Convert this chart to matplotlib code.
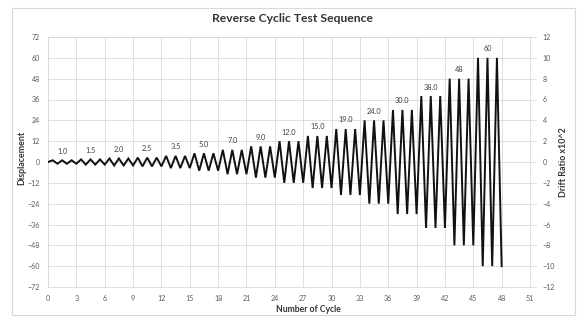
import matplotlib
matplotlib.use('Agg')
import matplotlib.pyplot as plt
from matplotlib.patches import Rectangle

plt.rcParams['font.family'] = ['Lato', 'DejaVu Sans']

# ---- data ----
amplitudes = [1.0, 1.5, 2.0, 2.5, 3.5, 5.0, 7.0, 9.0, 12.0, 15.0, 19.0, 24.0, 30.0, 38.0, 48, 60]
step_labels = ["1.0", "1.5", "2.0", "2.5", "3.5", "5.0", "7.0", "9.0", "12.0", "15.0",
               "19.0", "24.0", "30.0", "38.0", "48", "60"]
cycles_per_step = 3
x_ticks = list(range(0, 52, 3))
y_ticks = list(range(-72, 73, 12))
drift_ticks = list(range(-12, 13, 2))

# build the displacement history: each cycle peaks half-way and reverses at its end
cyc_x = [0]
disp = [0]
cycle = 0
for a in amplitudes:
    for k in range(cycles_per_step):
        cycle += 1
        cyc_x += [cycle - 0.5, cycle]
        disp += [a, -a]

fig = plt.figure(figsize=(5.84, 3.22), dpi=100)
W, H = 584, 322
fig.patches.append(Rectangle((12 / W, 1 - 315 / H), (575 - 12) / W, (315 - 8) / H,
                             transform=fig.transFigure, fill=False,
                             edgecolor='#d9d9d9', lw=0.8))

ax = fig.add_axes([48 / W, 1 - 287 / H, (530 - 48) / W, (287 - 37) / H])
grid_c = '#d9d9d9'
tick_c = '#595959'

ax.plot(cyc_x, disp, color='#111111', lw=1.4, solid_joinstyle='miter', zorder=3)

for i, (a, lab) in enumerate(zip(amplitudes, step_labels)):
    xc = i * cycles_per_step + cycles_per_step / 2
    ax.annotate(lab, (xc, a), xytext=(0, 6.5), textcoords='offset points',
                ha='center', va='center', fontsize=5.3, color='#404040')

ax.set_xlim(0, 51)
ax.set_ylim(-72, 72)
ax.set_xticks(x_ticks)
ax.set_yticks(y_ticks)
ax.grid(True, color=grid_c, lw=0.6)
ax.set_axisbelow(True)
for s in ax.spines.values():
    s.set_color(grid_c)
    s.set_linewidth(0.6)
ax.tick_params(axis='both', length=0, labelsize=5.1, labelcolor=tick_c)
ax.tick_params(axis='y', pad=6)
ax.tick_params(axis='x', pad=5.5)

ax2 = ax.twinx()
ax2.set_ylim(-12, 12)
ax2.set_yticks(drift_ticks)
for s in ax2.spines.values():
    s.set_visible(False)
ax2.tick_params(axis='y', length=4, color=grid_c, width=0.6, labelsize=5.1,
                labelcolor=tick_c, pad=5)

fig.text(293 / W, 1 - 18 / H, 'Reverse Cyclic Test Sequence', ha='center', va='center',
         fontsize=8.7, fontweight='bold', color='#333333')
fig.text(308 / W, 1 - 309 / H, 'Number of Cycle', ha='center', va='center',
         fontsize=6.2, fontweight='bold', color='#333333')
fig.text(22 / W, 1 - 158 / H, 'Displacement', ha='center', va='center', rotation=90,
         fontsize=6.4, fontweight='bold', color='#333333')
fig.text(564 / W, 1 - 162 / H, 'Drift Ratio x10^2', ha='center', va='center', rotation=90,
         fontsize=6.4, fontweight='bold', color='#333333')

fig.savefig('out.png', dpi=100)
